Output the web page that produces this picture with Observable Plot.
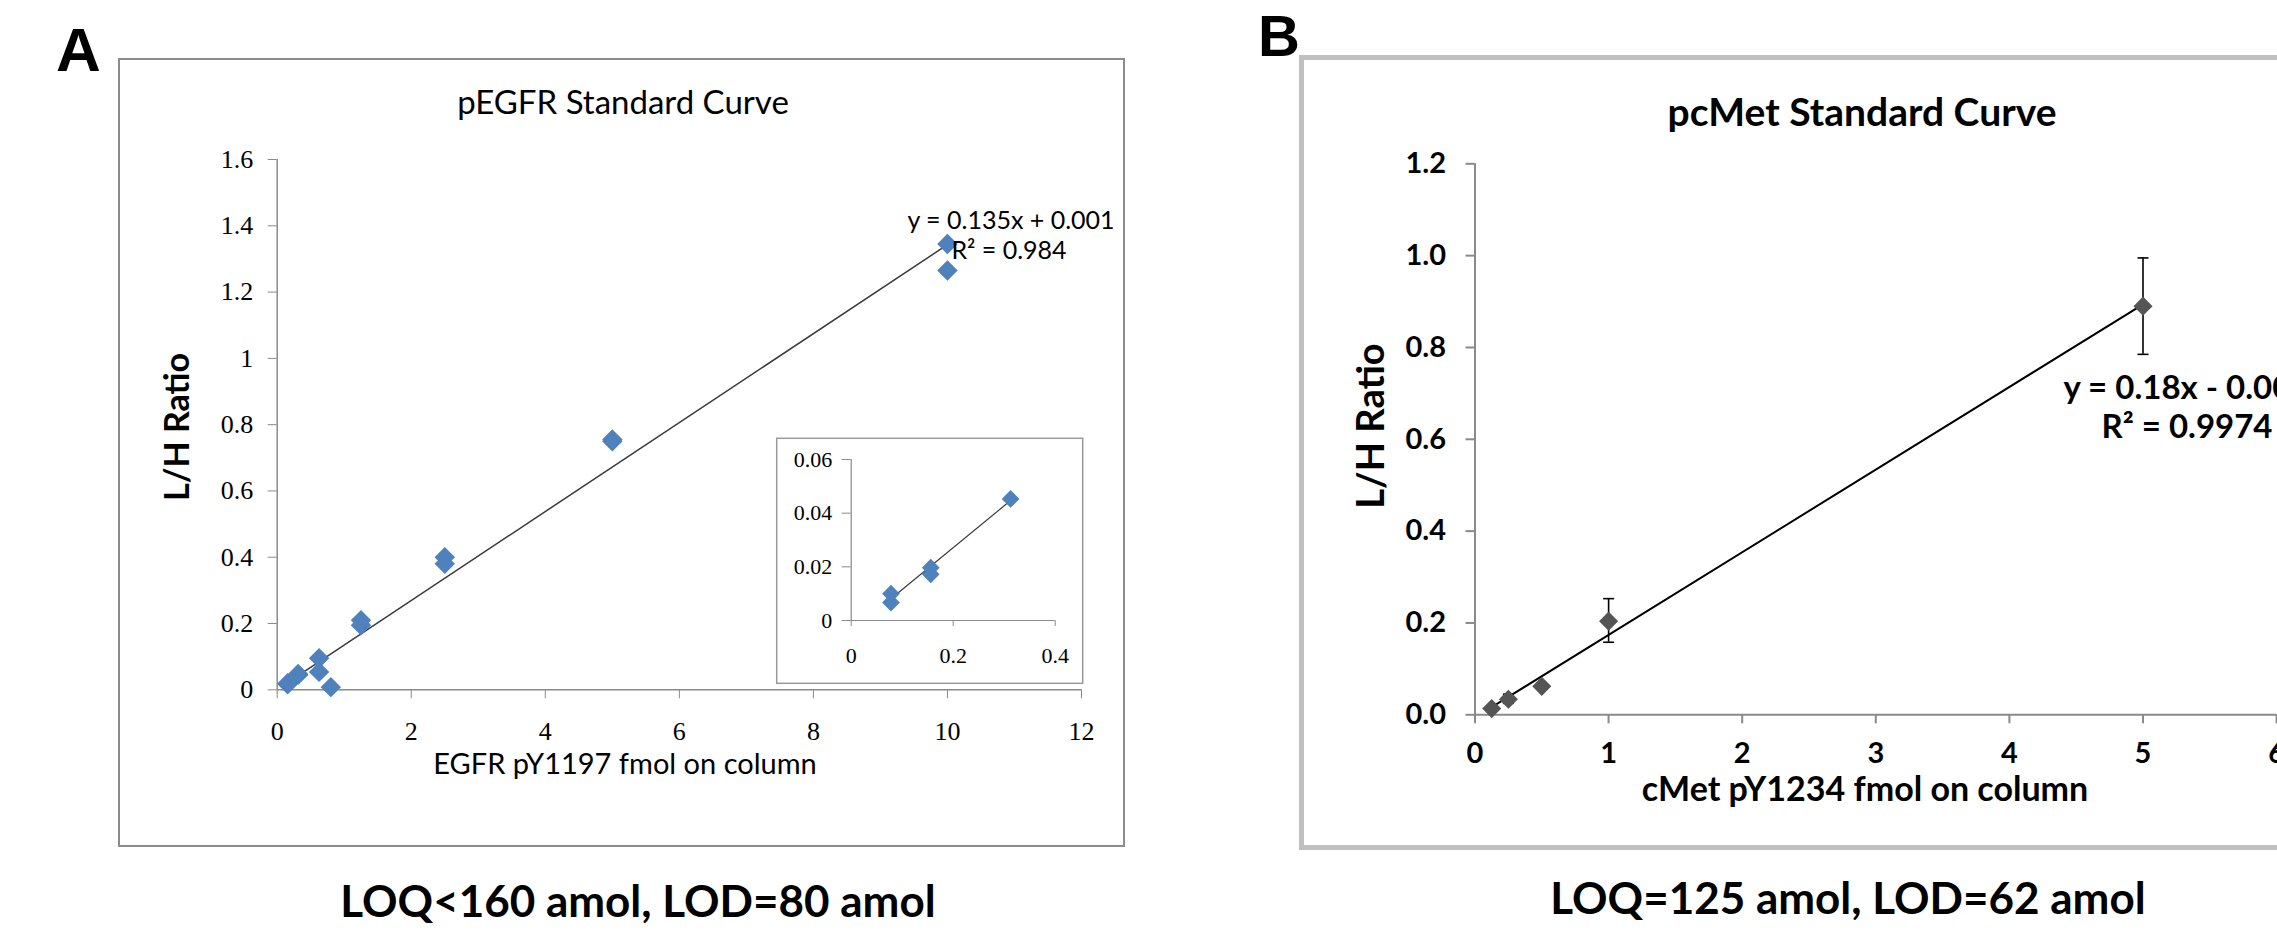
<!DOCTYPE html>
<html><head><meta charset="utf-8">
<script src="https://cdn.jsdelivr.net/npm/d3@7"></script>
<script src="https://cdn.jsdelivr.net/npm/@observablehq/plot@0.6"></script>
<style>
html,body{margin:0;padding:0;background:#fff;}
#root{position:relative;width:2277px;height:943px;overflow:hidden;background:#fff;}
#root > svg{position:absolute;left:0;top:0;}
</style></head><body><div id="root"></div>
<script>
// ---------- Panel A: pEGFR standard curve ----------
const egfrX = [0.156, 0.156, 0.3125, 0.3125, 0.625, 0.625, 0.8, 1.25, 1.25, 2.5, 2.5, 5, 5, 10, 10];
const egfrY = [0.017, 0.020, 0.045, 0.048, 0.095, 0.054, 0.008, 0.210, 0.195, 0.400, 0.380, 0.750, 0.755, 1.345, 1.265];
const egfrFitX = [0.156, 10];
const egfrFitY = [0.022, 1.343];
const egfrXTicks = [0, 2, 4, 6, 8, 10, 12];
const egfrYTicks = [0, 0.2, 0.4, 0.6, 0.8, 1, 1.2, 1.4, 1.6];
// inset (low range)
const insetX = [0.078, 0.078, 0.156, 0.156, 0.3125];
const insetY = [0.0100, 0.0067, 0.0197, 0.0172, 0.0453];
const insetFitX = [0.078, 0.3125];
const insetFitY = [0.0081, 0.0447];
const insetXTicks = [0, 0.2, 0.4];
const insetYTicks = [0, 0.02, 0.04, 0.06];
// ---------- Panel B: pcMet standard curve ----------
const cmetX = [0.125, 0.25, 0.5, 1, 5];
const cmetY = [0.0135, 0.034, 0.062, 0.204, 0.890];
const cmetLo = [0.010, 0.025, 0.058, 0.158, 0.785];
const cmetHi = [0.017, 0.045, 0.066, 0.253, 0.995];
const cmetFitX = [0.125, 5];
const cmetFitY = [0.0165, 0.894];
const cmetXTicks = [0, 1, 2, 3, 4, 5, 6];
const cmetYTicks = [0, 0.2, 0.4, 0.6, 0.8, 1.0, 1.2];

const W = 2277, H = 943;
const root = document.getElementById("root");
const axisGray = "#8a8a8a";
const tbl = (xs, ys) => xs.map((x, i) => ({x, y: ys[i]}));

// background frames
const bg = d3.select(root).append("svg").attr("width", W).attr("height", H);
bg.append("rect").attr("x", 119).attr("y", 59).attr("width", 1005).attr("height", 787)
  .attr("fill", "#fff").attr("stroke", "#8c8c8c").attr("stroke-width", 2);
bg.append("rect").attr("x", 1301.5).attr("y", 57.5).attr("width", 1200).attr("height", 790)
  .attr("fill", "#fff").attr("stroke", "#c0c0c0").attr("stroke-width", 5);
bg.append("rect").attr("x", 776.7).attr("y", 438.3).attr("width", 306).attr("height", 245)
  .attr("fill", "#fff").attr("stroke", "#9a9a9a").attr("stroke-width", 1.5);

// main A
const plotA = Plot.plot({
  width: W, height: H,
  marginLeft: 276.7, marginRight: W - 1081, marginTop: 159, marginBottom: H - 689.3,
  style: {background: "transparent", overflow: "visible"},
  x: {domain: [0, 12]},
  y: {domain: [0, 1.6]},
  marks: [
    Plot.ruleX([0], {stroke: axisGray, strokeWidth: 1.5}),
    Plot.ruleY([0], {stroke: axisGray, strokeWidth: 1.5}),
    Plot.axisX(egfrXTicks, {tickSize: 9, tickPadding: 23, stroke: axisGray, fill: "#000", fontSize: 26,
      fontFamily: "Liberation Serif", tickFormat: d => String(d), label: null}),
    Plot.axisY(egfrYTicks, {tickSize: 9, tickPadding: 15, stroke: axisGray, fill: "#000", fontSize: 26,
      fontFamily: "Liberation Serif", tickFormat: d => String(d), label: null}),
    Plot.line(tbl(egfrFitX, egfrFitY), {x: "x", y: "y", stroke: "#3a3a3a", strokeWidth: 1.5}),
    Plot.dot(tbl(egfrX, egfrY), {x: "x", y: "y", symbol: "diamond2", r: 9.2, fill: "#4F81BD", stroke: "none"})
  ]
});
root.appendChild(plotA);

// inset
const plotInset = Plot.plot({
  width: W, height: H,
  marginLeft: 850.7, marginRight: W - 1054.7, marginTop: 459, marginBottom: H - 620,
  style: {background: "transparent", overflow: "visible"},
  x: {domain: [0, 0.4]},
  y: {domain: [0, 0.06]},
  marks: [
    Plot.ruleX([0], {stroke: axisGray, strokeWidth: 1.2}),
    Plot.ruleY([0], {stroke: axisGray, strokeWidth: 1.2}),
    Plot.axisX(insetXTicks, {tickSize: 6, tickPadding: 21, stroke: axisGray, fill: "#000", fontSize: 22,
      fontFamily: "Liberation Serif", tickFormat: d => String(d), label: null}),
    Plot.axisY(insetYTicks, {tickSize: 9, tickPadding: 10, stroke: axisGray, fill: "#000", fontSize: 22,
      fontFamily: "Liberation Serif", tickFormat: d => String(d), label: null}),
    Plot.line(tbl(insetFitX, insetFitY), {x: "x", y: "y", stroke: "#3a3a3a", strokeWidth: 1.2}),
    Plot.dot(tbl(insetX, insetY), {x: "x", y: "y", symbol: "diamond2", r: 8, fill: "#4F81BD", stroke: "none"})
  ]
});
root.appendChild(plotInset);

// B
const capSymbol = {draw(ctx, size) { const r = Math.sqrt(size / Math.PI); ctx.moveTo(-r, 0); ctx.lineTo(r, 0); }};
const cmetTable = cmetX.map((x, i) => ({x, y: cmetY[i], lo: cmetLo[i], hi: cmetHi[i]}));
const plotB = Plot.plot({
  width: W, height: H,
  marginLeft: 1474.5, marginRight: W - (1474.5 + 6 * 133.6), marginTop: 163.3, marginBottom: H - 714.3,
  style: {background: "transparent", overflow: "visible"},
  x: {domain: [0, 6]},
  y: {domain: [0, 1.2]},
  marks: [
    Plot.ruleX([0], {stroke: axisGray, strokeWidth: 2}),
    Plot.ruleY([0], {stroke: axisGray, strokeWidth: 2}),
    Plot.axisX(cmetXTicks, {tickSize: 9, tickPadding: 19, stroke: axisGray, strokeWidth: 2, fill: "#000", fontSize: 29,
      fontWeight: "bold", fontFamily: "Lato", tickFormat: d => String(d), label: null}),
    Plot.axisY(cmetYTicks, {tickSize: 9, tickPadding: 20, stroke: axisGray, strokeWidth: 2, fill: "#000", fontSize: 29,
      fontWeight: "bold", fontFamily: "Lato", tickFormat: d3.format(".1f"), label: null}),
    Plot.ruleX(cmetTable, {x: "x", y1: "lo", y2: "hi", stroke: "#000", strokeWidth: 1.6}),
    Plot.dot(cmetTable, {x: "x", y: "lo", symbol: capSymbol, r: 5.5, stroke: "#000", strokeWidth: 1.6, fill: "none"}),
    Plot.dot(cmetTable, {x: "x", y: "hi", symbol: capSymbol, r: 5.5, stroke: "#000", strokeWidth: 1.6, fill: "none"}),
    Plot.line(tbl(cmetFitX, cmetFitY), {x: "x", y: "y", stroke: "#000", strokeWidth: 2}),
    Plot.dot(cmetTable, {x: "x", y: "y", symbol: "diamond2", r: 8.6, fill: "#555555", stroke: "none"})
  ]
});
root.appendChild(plotB);

// text overlay
const ov = d3.select(root).append("svg").attr("width", W).attr("height", H);
function txt(s, x, y, o = {}) {
  const t = ov.append("text").attr("x", x).attr("y", y).text(s)
    .attr("font-family", o.family || "Lato")
    .attr("font-size", o.size || 30)
    .attr("font-weight", o.weight || "normal")
    .attr("text-anchor", o.anchor || "middle")
    .attr("fill", "#000");
  if (o.rotate) t.attr("transform", `rotate(-90 ${x} ${y})`);
  return t;
}
txt("A", 56, 71, {family: "Liberation Sans", size: 62, weight: "bold", anchor: "start"});
txt("B", 1258, 56, {family: "Liberation Sans", size: 58, weight: "bold", anchor: "start"});

txt("pEGFR Standard Curve", 623, 114, {size: 33});
txt("EGFR pY1197 fmol on column", 625, 774, {size: 29});
txt("L/H Ratio", 189, 427, {size: 34, weight: "bold", rotate: true});
txt("y = 0.135x + 0.001", 1011, 229, {size: 25});
txt("R\u00B2 = 0.984", 1009, 259, {size: 25});
txt("LOQ<160 amol, LOD=80 amol", 638, 917, {size: 44, weight: "bold"});

txt("pcMet Standard Curve", 1862, 126, {size: 39, weight: "bold"});
txt("cMet pY1234 fmol on column", 1865, 801, {size: 34, weight: "bold"});
txt("L/H Ratio", 1384, 426, {size: 38, weight: "bold", rotate: true});
txt("y = 0.18x - 0.006", 2187, 399, {size: 33, weight: "bold"});
txt("R\u00B2 = 0.9974", 2187, 438, {size: 33, weight: "bold"});
txt("LOQ=125 amol, LOD=62 amol", 1848, 914, {size: 44, weight: "bold"});
</script></body></html>
